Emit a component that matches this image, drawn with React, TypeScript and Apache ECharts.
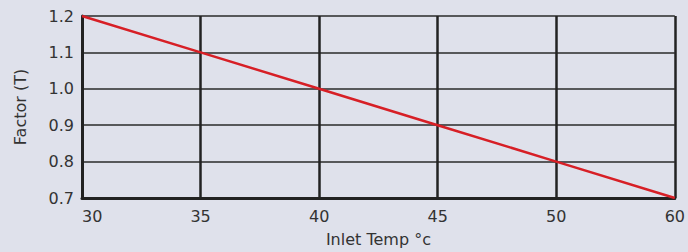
import React, { useEffect, useRef } from "react";
import * as echarts from "echarts";

const temps = ["30", "35", "40", "45", "50", "60"];
const factors = [1.2, 1.1, 1.0, 0.9, 0.8, 0.7];
const xName = "Inlet Temp °c";
const yName = "Factor (T)";

export default function App() {
  const ref = useRef<HTMLDivElement>(null);
  useEffect(() => {
    const chart = echarts.init(ref.current!, null, { renderer: "svg" });
    const font = "DejaVu Sans, Verdana, sans-serif";
    chart.setOption({
      animation: false,
      backgroundColor: "#dfe1eb",
      grid: { left: 82, right: 8, top: 16, bottom: 50 },
      xAxis: {
        type: "category",
        data: temps,
        boundaryGap: false,
        name: xName,
        nameLocation: "middle",
        nameGap: 33,
        nameTextStyle: { fontFamily: font, fontSize: 16, color: "#333" },
        axisLine: { show: true, lineStyle: { color: "#222", width: 3 } },
        axisTick: { show: false },
        axisLabel: {
          fontFamily: font,
          fontSize: 16,
          color: "#333",
          margin: 10,
          alignMinLabel: "left",
        },
        splitLine: { show: true, lineStyle: { color: "#222", width: 2.5 } },
      },
      yAxis: {
        type: "value",
        min: 0.7,
        max: 1.2,
        interval: 0.1,
        name: yName,
        nameLocation: "middle",
        nameGap: 54,
        nameTextStyle: { fontFamily: font, fontSize: 16, color: "#333" },
        axisLine: { show: true, lineStyle: { color: "#222", width: 3 } },
        axisTick: { show: false },
        axisLabel: {
          fontFamily: font,
          fontSize: 16,
          color: "#333",
          margin: 8,
          padding: [6, 0, 0, 0],
          formatter: (v: number) => v.toFixed(1),
        },
        splitLine: { show: true, lineStyle: { color: "#2a2a2a", width: 1.5 } },
      },
      series: [
        {
          type: "line",
          data: factors,
          symbol: "none",
          lineStyle: { color: "#d71f26", width: 2.5 },
        },
      ],
    });
    return () => chart.dispose();
  }, []);
  return <div ref={ref} style={{ width: 688, height: 252, position: "absolute", left: 0, top: 0 }} />;
}
